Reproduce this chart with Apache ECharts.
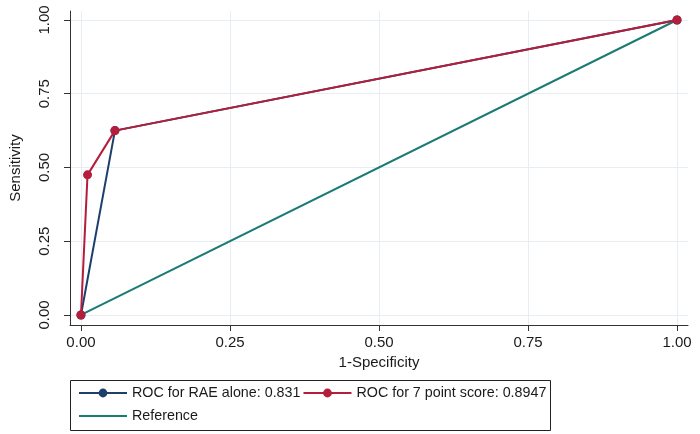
<!DOCTYPE html>
<html>
<head>
<meta charset="utf-8">
<script src="https://cdn.jsdelivr.net/npm/echarts@6/dist/echarts.min.js"></script>
<style>html,body{margin:0;padding:0;background:#fff}#c{width:700px;height:434px}</style>
</head>
<body>
<div id="c"></div>
<script>
var raeX = [0, 0.057, 1];
var raeY = [0, 0.625, 1];
var scoreX = [0, 0.011, 0.057, 1];
var scoreY = [0, 0.475, 0.625, 1];
var refX = [0, 1];
var refY = [0, 1];
var ticks = [0, 0.25, 0.5, 0.75, 1];
var tickLabels = ['0.00', '0.25', '0.50', '0.75', '1.00'];
var names = ['ROC for RAE alone: 0.831', 'ROC for 7 point score: 0.8947', 'Reference'];

function pairs(xs, ys) { return xs.map(function (x, i) { return [x, ys[i]]; }); }
function fmt(v) { var i = ticks.indexOf(+v.toFixed(4)); return i >= 0 ? tickLabels[i] : ''; }

var font = 'Liberation Sans, Arial, Helvetica, sans-serif';
var gridLine = { color: '#e6eef3', width: 1, type: 'solid' };

var chart = echarts.init(document.getElementById('c'), null, { renderer: 'canvas' });
chart.setOption({
  animation: false,
  backgroundColor: '#ffffff',
  grid: { left: 69, right: 12, top: 11, bottom: 109 },
  xAxis: {
    type: 'value', min: -0.0184, max: 1.0184,
    name: '1-Specificity', nameLocation: 'middle', nameGap: 23,
    nameTextStyle: { fontSize: 15, color: '#1a1a1a', fontFamily: font },
    axisLine: { show: true, onZero: false, lineStyle: { color: '#333', width: 1 } },
    axisTick: { show: true, length: 6, customValues: ticks, lineStyle: { color: '#333' } },
    axisLabel: { customValues: ticks, formatter: fmt, fontSize: 15, color: '#1a1a1a', fontFamily: font, margin: 10 },
    splitLine: { show: false }
  },
  yAxis: {
    type: 'value', min: -0.034, max: 1.0305,
    name: 'Sensitivity', nameLocation: 'middle', nameGap: 47, nameRotate: 90,
    nameTextStyle: { fontSize: 15, color: '#1a1a1a', fontFamily: font },
    axisLine: { show: true, onZero: false, lineStyle: { color: '#333', width: 1 } },
    axisTick: { show: true, length: 6, customValues: ticks, lineStyle: { color: '#333' } },
    axisLabel: { customValues: ticks, formatter: fmt, rotate: 90, fontSize: 15, color: '#1a1a1a', fontFamily: font, margin: 18 },
    splitLine: { show: false }
  },
  legend: [
    {
      data: [names[0], names[1]], left: 73, top: 381, orient: 'horizontal',
      itemWidth: 48, itemHeight: 11, itemGap: 2,
      textStyle: { fontSize: 14.3, color: '#1a1a1a', fontFamily: font }
    },
    {
      data: [{ name: names[2], itemStyle: { opacity: 0 } }], left: 73, top: 404,
      itemWidth: 48, itemHeight: 11,
      textStyle: { fontSize: 14.3, color: '#1a1a1a', fontFamily: font }
    }
  ],
  graphic: [{
    type: 'rect', left: 68, top: 378, silent: true,
    shape: { width: 480, height: 50 },
    style: { fill: 'none', stroke: '#222', lineWidth: 1 }
  }],
  series: [
    {
      name: 'grid', type: 'line', data: [], silent: true, z: 0,
      markLine: {
        silent: true, symbol: 'none', label: { show: false }, z: 0,
        lineStyle: gridLine, animation: false, emphasis: { disabled: true },
        data: ticks.map(function (t) { return { xAxis: t }; }).concat(ticks.map(function (t) { return { yAxis: t }; }))
      }
    },
    {
      name: names[2], type: 'line', data: pairs(refX, refY), symbol: 'none', z: 3,
      lineStyle: { color: '#1a7a74', width: 2 }, itemStyle: { color: '#1a7a74' }
    },
    {
      name: names[0], type: 'line', data: pairs(raeX, raeY), symbol: 'circle', symbolSize: 9, z: 4,
      lineStyle: { color: '#1c3f6b', width: 2 }, itemStyle: { color: '#1c3f6b', borderWidth: 0 }
    },
    {
      name: names[1], type: 'line', data: pairs(scoreX, scoreY), symbol: 'circle', symbolSize: 9, z: 5,
      lineStyle: { color: '#b51d3c', width: 2 }, itemStyle: { color: '#b51d3c', borderWidth: 0 }
    }
  ]
});
</script>
</body>
</html>
